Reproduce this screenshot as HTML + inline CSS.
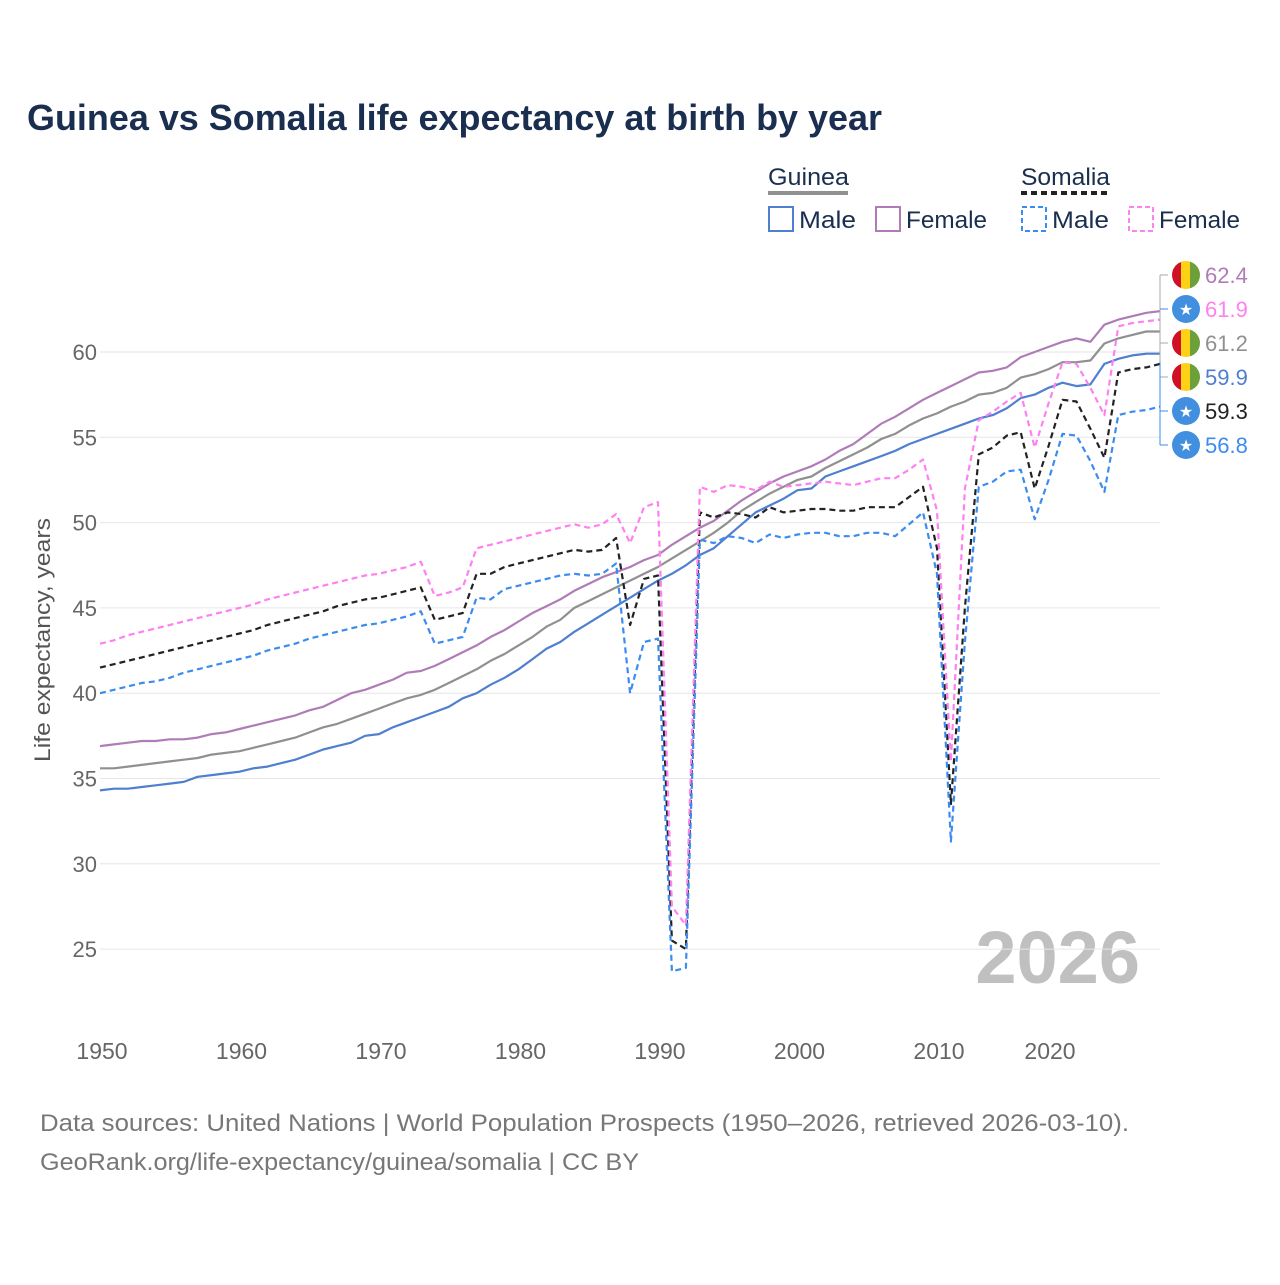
<!DOCTYPE html>
<html><head><meta charset="utf-8"><style>
body{margin:0;background:#fff;font-family:"Liberation Sans",sans-serif}
svg text{font-family:"Liberation Sans",sans-serif}
</style></head><body>
<svg id="c" width="1280" height="1280" xmlns="http://www.w3.org/2000/svg">
<text x="27" y="130" font-size="36" font-weight="bold" fill="#1a2e4f" textLength="855" lengthAdjust="spacingAndGlyphs">Guinea vs Somalia life expectancy at birth by year</text>
<g>
<text x="768" y="185" font-size="24" fill="#1a2e4f" textLength="81" lengthAdjust="spacingAndGlyphs">Guinea</text>
<line x1="768" y1="193" x2="848" y2="193" stroke="#909090" stroke-width="4"/>
<text x="1021" y="185" font-size="24" fill="#1a2e4f" textLength="89" lengthAdjust="spacingAndGlyphs">Somalia</text>
<line x1="1021" y1="193" x2="1110" y2="193" stroke="#222" stroke-width="4" stroke-dasharray="6,4"/>
<rect x="769" y="207" width="24" height="24" fill="none" stroke="#4f7fcf" stroke-width="2"/>
<text x="799" y="228" font-size="24" fill="#1a2e4f" textLength="57" lengthAdjust="spacingAndGlyphs">Male</text>
<rect x="876" y="207" width="24" height="24" fill="none" stroke="#b07cb8" stroke-width="2"/>
<text x="906" y="228" font-size="24" fill="#1a2e4f" textLength="81" lengthAdjust="spacingAndGlyphs">Female</text>
<rect x="1022" y="207" width="24" height="24" fill="none" stroke="#3b8cf0" stroke-width="2" stroke-dasharray="5,3"/>
<text x="1052" y="228" font-size="24" fill="#1a2e4f" textLength="57" lengthAdjust="spacingAndGlyphs">Male</text>
<rect x="1129" y="207" width="24" height="24" fill="none" stroke="#ff80f0" stroke-width="2" stroke-dasharray="5,3"/>
<text x="1159" y="228" font-size="24" fill="#1a2e4f" textLength="81" lengthAdjust="spacingAndGlyphs">Female</text>
</g>
<text transform="translate(50,640) rotate(-90)" text-anchor="middle" font-size="22" fill="#555" textLength="244" lengthAdjust="spacingAndGlyphs">Life expectancy, years</text>
<text x="1140" y="983" text-anchor="end" font-size="74" font-weight="bold" fill="#c0c0c0">2026</text>
<g id="grid"></g><g id="series"></g><g id="ends"></g>
<text x="40" y="1131" font-size="24" fill="#777" textLength="1089" lengthAdjust="spacingAndGlyphs">Data sources: United Nations | World Population Prospects (1950–2026, retrieved 2026-03-10).</text>
<text x="40" y="1170" font-size="24" fill="#777" textLength="599" lengthAdjust="spacingAndGlyphs">GeoRank.org/life-expectancy/guinea/somalia | CC BY</text>
</svg>
<script>
const startYear=1950;
const yTicks=[25,30,35,40,45,50,55,60];
const xTicks=[1950,1960,1970,1980,1990,2000,2010,2020];
const guineaMale=[34.3,34.4,34.4,34.5,34.6,34.7,34.8,35.1,35.2,35.3,35.4,35.6,35.7,35.9,36.1,36.4,36.7,36.9,37.1,37.5,37.6,38.0,38.3,38.6,38.9,39.2,39.7,40.0,40.5,40.9,41.4,42.0,42.6,43.0,43.6,44.1,44.6,45.1,45.6,46.1,46.6,47.0,47.5,48.1,48.5,49.2,49.9,50.6,51.0,51.4,51.9,52.0,52.7,53.0,53.3,53.6,53.9,54.2,54.6,54.9,55.2,55.5,55.8,56.1,56.3,56.7,57.3,57.5,57.9,58.2,58.0,58.1,59.3,59.6,59.8,59.9,59.9];
const guineaFemale=[36.9,37.0,37.1,37.2,37.2,37.3,37.3,37.4,37.6,37.7,37.9,38.1,38.3,38.5,38.7,39.0,39.2,39.6,40.0,40.2,40.5,40.8,41.2,41.3,41.6,42.0,42.4,42.8,43.3,43.7,44.2,44.7,45.1,45.5,46.0,46.4,46.8,47.1,47.4,47.8,48.1,48.7,49.2,49.7,50.1,50.7,51.3,51.8,52.3,52.7,53.0,53.3,53.7,54.2,54.6,55.2,55.8,56.2,56.7,57.2,57.6,58.0,58.4,58.8,58.9,59.1,59.7,60.0,60.3,60.6,60.8,60.6,61.6,61.9,62.1,62.3,62.4];
const guineaTotal=[35.6,35.6,35.7,35.8,35.9,36.0,36.1,36.2,36.4,36.5,36.6,36.8,37.0,37.2,37.4,37.7,38.0,38.2,38.5,38.8,39.1,39.4,39.7,39.9,40.2,40.6,41.0,41.4,41.9,42.3,42.8,43.3,43.9,44.3,45.0,45.4,45.8,46.2,46.6,47.0,47.4,47.9,48.4,48.9,49.4,50.0,50.7,51.2,51.7,52.1,52.5,52.7,53.2,53.6,54.0,54.4,54.9,55.2,55.7,56.1,56.4,56.8,57.1,57.5,57.6,57.9,58.5,58.7,59.0,59.4,59.4,59.5,60.5,60.8,61.0,61.2,61.2];
const somaliaTotal=[41.5,41.7,41.9,42.1,42.3,42.5,42.7,42.9,43.1,43.3,43.5,43.7,44.0,44.2,44.4,44.6,44.8,45.1,45.3,45.5,45.6,45.8,46.0,46.2,44.3,44.5,44.7,47.0,47.0,47.4,47.6,47.8,48.0,48.2,48.4,48.3,48.4,49.1,44.0,46.7,46.9,25.5,25.0,50.6,50.3,50.6,50.5,50.3,50.9,50.6,50.7,50.8,50.8,50.7,50.7,50.9,50.9,50.9,51.5,52.1,48.5,33.5,45.0,54.0,54.4,55.1,55.3,52.0,54.5,57.2,57.1,55.5,53.8,58.8,59.0,59.1,59.3];
const somaliaMale=[40.0,40.2,40.4,40.6,40.7,40.9,41.2,41.4,41.6,41.8,42.0,42.2,42.5,42.7,42.9,43.2,43.4,43.6,43.8,44.0,44.1,44.3,44.5,44.8,42.9,43.1,43.3,45.6,45.5,46.1,46.3,46.5,46.7,46.9,47.0,46.9,47.0,47.6,40.0,43.0,43.2,23.7,23.9,49.0,48.8,49.2,49.1,48.8,49.3,49.1,49.3,49.4,49.4,49.2,49.2,49.4,49.4,49.2,49.9,50.6,47.0,31.3,43.0,52.1,52.4,53.0,53.1,50.2,52.5,55.2,55.1,53.6,51.8,56.3,56.5,56.6,56.8];
const somaliaFemale=[42.9,43.1,43.4,43.6,43.8,44.0,44.2,44.4,44.6,44.8,45.0,45.2,45.5,45.7,45.9,46.1,46.3,46.5,46.7,46.9,47.0,47.2,47.4,47.7,45.7,45.9,46.2,48.5,48.7,48.9,49.1,49.3,49.5,49.7,49.9,49.7,49.9,50.5,48.8,50.9,51.2,27.5,26.4,52.1,51.8,52.2,52.1,51.9,52.4,52.1,52.2,52.3,52.4,52.3,52.2,52.4,52.6,52.6,53.1,53.7,50.7,36.0,52.0,56.0,56.5,57.1,57.6,54.4,57.0,59.4,59.3,57.9,56.3,61.5,61.7,61.8,61.9];

const NS='http://www.w3.org/2000/svg';
const X=yr=>100+(yr-1950)*13.95;
const Y=v=>352+(60-v)*17.06;
function mk(tag,attrs,parent){const e=document.createElementNS(NS,tag);for(const k in attrs)e.setAttribute(k,attrs[k]);parent.appendChild(e);return e;}
const grid=document.getElementById('grid');
yTicks.forEach(t=>{
 const l=mk('line',{x1:100,x2:1160,y1:Y(t),y2:Y(t),stroke:'#e6e6e6','stroke-width':1},grid);
 
 
 const tx=mk('text',{x:97,y:Y(t)+8,'text-anchor':'end','font-size':22,fill:'#666'},grid);
 tx.textContent=t;
 
 
});
xTicks.forEach(t=>{
 const cx=t===2020?1050:X(t)+2;
 const tx=mk('text',{x:cx,y:1059,'text-anchor':'middle','font-size':23,fill:'#666'},grid);
 tx.textContent=t;
 
 
});
const series=[
 {d:guineaTotal,c:'#909090',dash:null,n:'guinea-total'},
 {d:guineaFemale,c:'#b07cb8',dash:null,n:'guinea-female'},
 {d:guineaMale,c:'#4f7fcf',dash:null,n:'guinea-male'},
 {d:somaliaTotal,c:'#222222',dash:'6,4',n:'somalia-total'},
 {d:somaliaFemale,c:'#ff80f0',dash:'6,4',n:'somalia-female'},
 {d:somaliaMale,c:'#3b8cf0',dash:'6,4',n:'somalia-male'}];
const sg=document.getElementById('series');
series.forEach(s=>{
 const pts=s.d.map((v,i)=>X(startYear+i).toFixed(1)+','+Y(v).toFixed(1)).join(' ');
 const a={points:pts,fill:'none',stroke:s.c,'stroke-width':2.2,'stroke-linejoin':'round'};
 if(s.dash)a['stroke-dasharray']=s.dash;
 const p=mk('polyline',a,sg);
 
 
});
const ends=document.getElementById('ends');
const labs=[
 {d:guineaFemale,c:'#b07cb8',f:'g',n:'guinea-female'},
 {d:somaliaFemale,c:'#ff80f0',f:'s',n:'somalia-female'},
 {d:guineaTotal,c:'#909090',f:'g',n:'guinea-total'},
 {d:guineaMale,c:'#4f7fcf',f:'g',n:'guinea-male'},
 {d:somaliaTotal,c:'#222222',f:'s',n:'somalia-total'},
 {d:somaliaMale,c:'#3b8cf0',f:'s',n:'somalia-male'}];
const last=guineaMale.length-1;
const bx=1160;
const gb=mk('path',{d:`M${bx} 275 H1168 M${bx} 275 V343 M${bx} 343 H1168 M${bx} 377 H1168 M${bx} ${Y(guineaTotal[last])} V377`,stroke:'#aaa','stroke-width':1,fill:'none'},ends);


const sb=mk('path',{d:`M${bx} 309 H1168 M${bx} 411 H1168 M${bx} 445 H1168 M${bx} 362 V411 M${bx} 405 V445`,stroke:'#3b8cf0','stroke-width':1,fill:'none'},ends);


labs.forEach((l,i)=>{
 const cy=275+i*34;
 const g=mk('g',{},ends);
 
 
 if(l.f==='g'){
  const clip=mk('clipPath',{id:'cp'+i},g);
  mk('circle',{cx:1186,cy:cy,r:14},clip);
  const fg=mk('g',{'clip-path':'url(#cp'+i+')'},g);
  mk('rect',{x:1172,y:cy-14,width:10,height:28,fill:'#ce1126'},fg);
  mk('rect',{x:1181,y:cy-14,width:10,height:28,fill:'#fcd116'},fg);
  mk('rect',{x:1190,y:cy-14,width:10,height:28,fill:'#6ea03a'},fg);
 }else{
  mk('circle',{cx:1186,cy:cy,r:14,fill:'#418fde'},g);
  const st=mk('text',{x:1186,y:cy+6,'text-anchor':'middle','font-size':16,fill:'#fff'},g);
  st.textContent='★';
 }
 const t=mk('text',{x:1205,y:cy+8,'font-size':22,fill:l.c},g);
 t.textContent=l.d[last].toFixed(1);
});
</script>
</body></html>
